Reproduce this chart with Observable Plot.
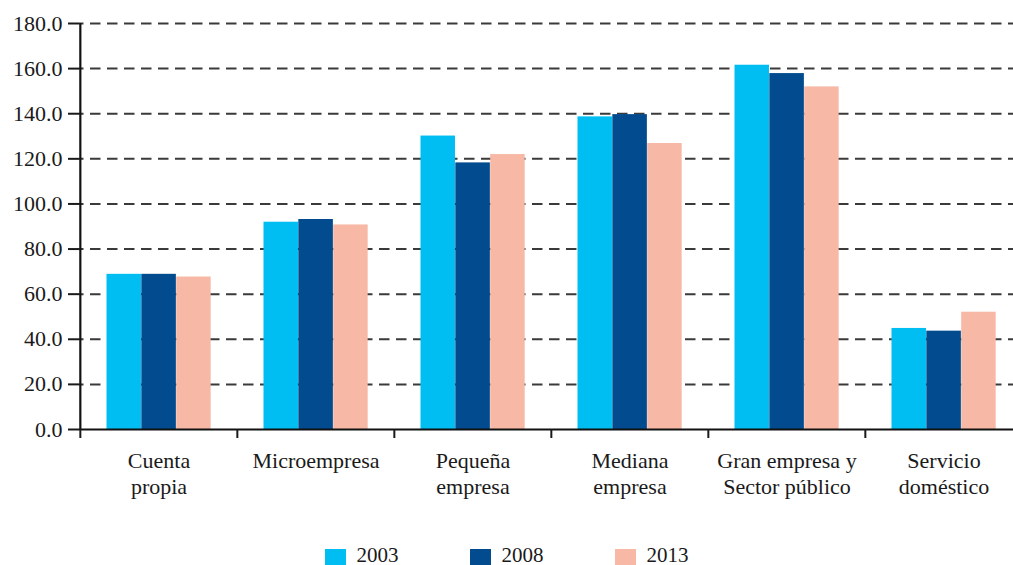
<!DOCTYPE html>
<html>
<head>
<meta charset="utf-8">
<script src="https://cdn.jsdelivr.net/npm/d3@7"></script>
<script src="https://cdn.jsdelivr.net/npm/@observablehq/plot@0.6"></script>
<style>
  :root { --serif: "Liberation Serif", "Times New Roman", Times, "Nimbus Roman", "Nimbus Roman No9 L", "FreeSerif", "Noto Serif", "DejaVu Serif", serif; }
  body { margin: 0; background: #fff; font-family: var(--serif); }
  #legend { display: flex; justify-content: center; gap: 71px; margin-top: 30px; font-size: 21px; line-height: 21px; color: #1a1a1a; }
  #legend .item { display: flex; align-items: flex-start; gap: 11px; }
  #legend .sw { width: 21px; height: 21px; margin-top: 3.5px; }
  #chart svg, #chart svg text { font-family: var(--serif) !important; }
</style>
</head>
<body>
<div id="chart"></div>
<div id="legend"></div>
<script>
// Firm-size categories (axis labels, two lines where wrapped)
const categories = [
  "Cuenta\npropia",
  "Microempresa",
  "Pequeña\nempresa",
  "Mediana\nempresa",
  "Gran empresa y\nSector público",
  "Servicio\ndoméstico"
];
const years = ["2003", "2008", "2013"];
const v2003 = [68.8, 91.9, 130.1, 138.6, 161.5, 44.8];
const v2008 = [68.8, 93.1, 118.2, 139.6, 157.8, 43.6];
const v2013 = [67.6, 90.7, 121.9, 126.8, 151.9, 52.0];
const yTicks = [0, 20, 40, 60, 80, 100, 120, 140, 160, 180];

const colors = ["#00bdf2", "#014b8e", "#f7b8a6"];
const series = [v2003, v2008, v2013];

const width = 1013;
const xRange = [79, 1023];
const bw = (xRange[1] - xRange[0]) / categories.length;

// bar placement inside each category band: [left, right] offsets in px
const slots = [[26.5, 61.3], [61.3, 96.2], [96.2, 131]];

const rows = (vals) => categories.map((c, i) => ({category: c, value: vals[i]}));

const bars = series.map((vals, k) =>
  Plot.barY(rows(vals), {
    x: "category",
    y: "value",
    fill: colors[k],
    insetLeft: slots[k][0],
    insetRight: bw - slots[k][1]
  })
);

const chart = Plot.plot({
  width,
  height: 515,
  marginTop: 23,
  marginBottom: 86,
  marginLeft: 79,
  marginRight: 0,
  style: {fontSize: "22px", color: "#1a1a1a", background: "#fff"},
  x: {domain: categories, range: xRange, padding: 0},
  y: {domain: [0, 180]},
  marks: [
    // dashed horizontal gridlines
    Plot.ruleY(yTicks.filter((d) => d > 0), {
      stroke: "#3a3a3a",
      strokeWidth: 2,
      strokeDasharray: "10.5,6.5",
      strokeDashoffset: 6
    }),
    ...bars,
    // baseline and vertical axis line
    Plot.ruleY([0], {stroke: "#111", strokeWidth: 2}),
    Plot.ruleX([categories[0]], {x: (d) => d, y1: 0, y2: 180, dx: -bw / 2, stroke: "#111", strokeWidth: 2.2}),
    Plot.axisY(yTicks, {
      tickSize: 11,
      tickPadding: 6,
      strokeWidth: 2,
      fontSize: 22,
      tickFormat: d3.format(".1f"),
      label: null
    }),
    // tick marks between category groups
    Plot.axisX({tickSize: 9, dx: -bw / 2, strokeWidth: 2, tickFormat: () => "", label: null}),
    // category labels
    Plot.axisX({tickSize: 0, tickPadding: 20, fontSize: 22, lineHeight: 1.18, label: null})
  ]
});
document.getElementById("chart").appendChild(chart);

const legend = document.getElementById("legend");
years.forEach((y, k) => {
  const item = document.createElement("div");
  item.className = "item";
  const sw = document.createElement("div");
  sw.className = "sw";
  sw.style.background = colors[k];
  const label = document.createElement("span");
  label.textContent = y;
  item.append(sw, label);
  legend.appendChild(item);
});
</script>
</body>
</html>
